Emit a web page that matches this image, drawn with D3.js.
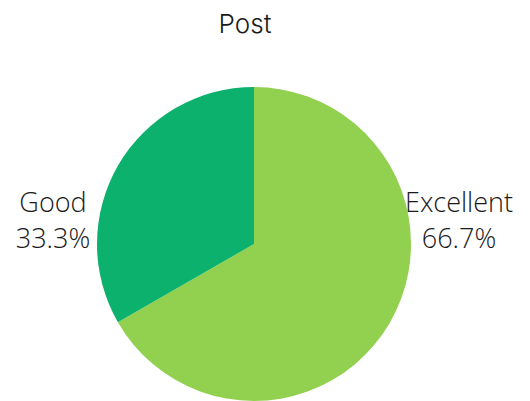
<!DOCTYPE html>
<html>
<head>
<meta charset="utf-8">
<script src="https://cdn.jsdelivr.net/npm/d3@7"></script>
<style>
  html, body { margin: 0; padding: 0; background: #ffffff; }
  svg { display: block; }
</style>
</head>
<body>
<svg id="chart" width="530" height="401"></svg>
<script>
// Rating shares for the "Post" survey
const categories = ["Excellent", "Good"];
const shares = [66.7, 33.3];
const sliceColors = ["#92d050", "#0bb16c"];
const chartTitle = "Post";

const svg = d3.select("#chart");
const cx = 254, cy = 244, r = 157;

svg.append("text")
  .attr("x", 245).attr("y", 33)
  .attr("text-anchor", "middle")
  .style("font-family", "Inter, Lato, sans-serif")
  .style("font-weight", 300)
  .style("font-size", "26px")
  .style("fill", "#1a1a1a")
  .text(chartTitle);

const data = categories.map((c, i) => ({ name: c, value: shares[i], color: sliceColors[i] }));
const pie = d3.pie().sort(null).value(d => d.value);
const arc = d3.arc().innerRadius(0).outerRadius(r);

const g = svg.append("g").attr("transform", `translate(${cx},${cy})`);
g.selectAll("path")
  .data(pie(data))
  .join("path")
  .attr("d", arc)
  .attr("fill", d => d.data.color);

// Outside labels: name above, percentage below
const labelPos = { Excellent: [459, 212], Good: [53, 212] };
data.forEach(d => {
  const [x, y] = labelPos[d.name];
  const t = svg.append("text")
    .attr("x", x).attr("y", y)
    .attr("text-anchor", "middle")
    .style("font-family", "'Open Sans', sans-serif")
    .style("font-weight", 300)
    .style("font-size", "27px")
    .style("fill", "#1a1a1a");
  t.append("tspan").attr("x", x).attr("dy", 0).text(d.name);
  t.append("tspan").attr("x", x).attr("dy", 36).text(d.value.toFixed(1) + "%");
});
</script>
</body>
</html>
